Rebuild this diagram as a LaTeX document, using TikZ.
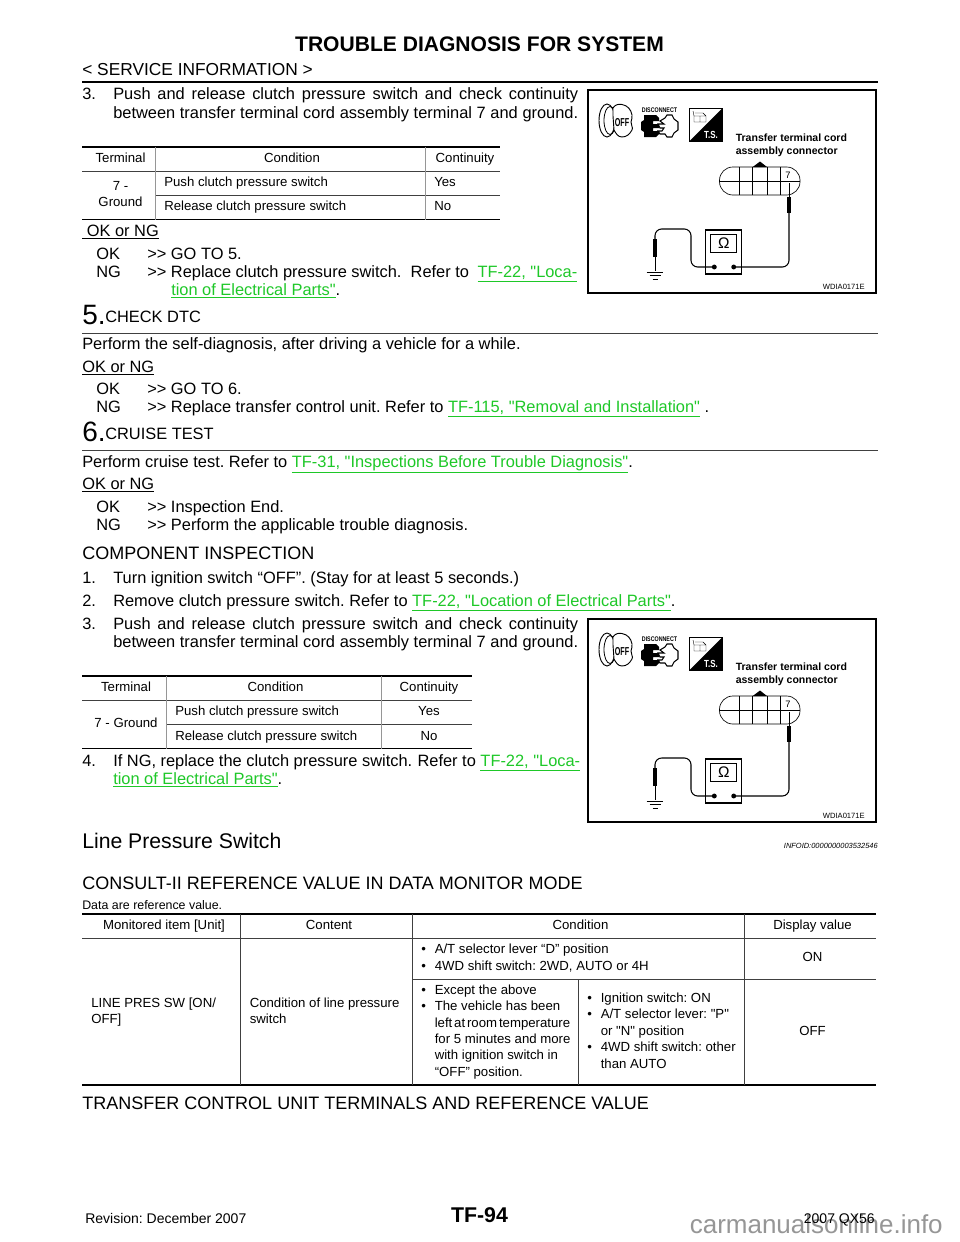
\documentclass[tikz,border=0pt]{standalone}
\usepackage{fontspec}
\setmainfont[Ligatures=TeXOff]{Liberation Sans}
\definecolor{linkgreen}{RGB}{30,200,40}
\definecolor{cellgray}{RGB}{150,150,150}
\definecolor{markgray}{RGB}{150,150,150}
\newcommand{\lnk}[1]{\textcolor{linkgreen}{\underline{#1}}}
\newcommand{\fullw}[2]{\makebox[#1][s]{#2}}
\tikzset{
  body/.style={anchor=base west, inner sep=0, font=\fontsize{12.3}{14}\selectfont},
  small/.style={anchor=base west, inner sep=0, font=\fontsize{9.9}{12}\selectfont},
  smallc/.style={anchor=base, inner sep=0, font=\fontsize{9.9}{12}\selectfont},
  headrule/.style={line width=1.4pt},
  thinrule/.style={line width=.5pt, color=black!75},
  cellrule/.style={line width=.5pt, color=cellgray},
  meterfig/.pic={
    \draw[line width=1pt, fill=white] (588, 90) rectangle (876, 293);
    %%icons
    \draw[line width=.7pt] (607, 120.5) ellipse (8 and 16.5);
    \draw[line width=.6pt] (610, 120.5) ellipse (6 and 14);
    \draw[line width=.7pt, fill=white] (613, 116) to (613, 108) to[out=60, in=170] (622, 104.5) to[out=-10, in=100] (632, 115) to[out=-80, in=80] (631, 122) to[out=-100, in=60] (632, 130) to[out=-120, in=0] (622, 137) to[out=180, in=-60] (614, 130) to cycle;
    \node (off) at (622, 122.5) [inner sep=0, font=\fontsize{7.5}{8}\selectfont\bfseries] {\scalebox{.72}[1.15]{OFF}};
    \node (disc) at (659.5, 110) [inner sep=0, font=\fontsize{4.2}{5}\selectfont\bfseries] {\scalebox{.95}[1.2]{DISCONNECT}};
    \fill (644, 115) to (656, 115) to (659, 118) to (659, 121) to (653, 121) to (653, 124) to (659, 124) to (659, 128) to (653, 128) to (653, 131) to (659, 131) to (659, 134) to (656, 137) to (644, 137) to (644, 132) to (641, 130) to (641, 122) to (644, 120) to cycle;
    \draw[line width=.8pt] (667, 115) to (672, 115) to (674, 119) to (678, 122) to (678, 130) to (674, 133) to (672, 137) to (667, 137) to (665, 134) to (660, 134) to (658, 131) to (662, 131) to (664, 128) to (660, 128) to (658, 124) to (664, 124) to (660, 121) to (665, 118) to cycle;
    \draw[line width=.5pt] (689.5, 108.5) rectangle (722, 141);
    \fill (722, 108.5) to (722, 141) to (689.5, 141) to cycle;
    \node (ts) at (711, 134.5) [inner sep=0, text=white, font=\fontsize{7}{8}\selectfont\bfseries] {\scalebox{.85}[1.1]{T.S.}};
    \draw[line width=.3pt] (694, 116) rectangle (700, 122) (700, 116) rectangle (706, 122) (694, 116) to (693, 111) (695, 113) to (703, 113) to (706, 116);
    %%connector
    \node (lbla) at (735.5, 141) [anchor=base west, inner sep=0, font=\fontsize{7.9}{9}\selectfont\bfseries] {Transfer terminal cord};
    \node (lblb) at (735.5, 154.5) [anchor=base west, inner sep=0, font=\fontsize{7.9}{9}\selectfont\bfseries] {assembly connector};
    \draw[line width=.5pt, rounded corners=10pt] (719.5, 167) rectangle (800, 195);
    \draw[line width=.5pt] (719.5, 181) to (800, 181);
    \draw[line width=.5pt] (739, 167) to (739, 195);
    \draw[line width=.5pt] (752.7, 167) to (752.7, 195);
    \draw[line width=.5pt] (767, 167) to (767, 195);
    \draw[line width=.5pt] (780.7, 167) to (780.7, 195);
    \fill (752.7, 167) to (760, 161.5) to (767, 167) to cycle;
    \node (pin) at (788, 175) [inner sep=0, fill=white, font=\fontsize{7}{8}\selectfont] {7};
    %%meter
    \node (meter) at (723.8, 252) [draw, line width=.8pt, minimum width=26.8pt, minimum height=33pt, inner sep=0] {};
    \node (dial) at (723.8, 243.5) [draw, line width=.8pt, minimum width=19.7pt, minimum height=13pt, inner sep=0, font=\fontsize{11.5}{12}\selectfont] {Ω};
    \node (plusdot) at (733.7, 267) [circle, fill, inner sep=1.3pt] {};
    \node (minusdot) at (714.3, 267) [circle, fill, inner sep=1.3pt] {};
    %%probes
    \coordinate (tipa) at (789, 183);
    \coordinate (bodya) at (789, 213);
    \coordinate (bodyb) at (655, 239);
    \coordinate (tipb) at (655, 271);
    \draw[line width=.7pt] (tipa) to (bodya);
    \draw[line width=3.2pt] (789, 197) to (bodya);
    \draw[line width=.8pt, rounded corners=5pt] (plusdot.center) to (789, 267) to (bodya);
    \draw[line width=.8pt, rounded corners=5pt] (minusdot.center) to (691, 267) to (691, 229) to (655, 229) to (bodyb);
    \draw[line width=3.2pt] (bodyb) to (655, 257);
    \draw[line width=.7pt] (655, 257) to (tipb);
    \draw[line width=.6pt] (646.7, 272) to (663.3, 272);
    \draw[line width=.6pt] (649.5, 275.5) to (660.5, 275.5);
    \draw[line width=.6pt] (652.5, 279) to (657.5, 279);
    \node (code) at (865, 289) [anchor=base east, inner sep=0, font=\fontsize{5.7}{7}\selectfont] {WDIA0171E};
  }
}
\begin{document}
\frenchspacing
\begin{tikzpicture}[x=.75pt, y=-.75pt]
      \useasboundingbox (0, 0) rectangle (960, 1242);
      \fill[white] (0, 0) rectangle (960, 1242);

      %%page head
      \node (title) at (479.5, 51) [anchor=base, inner sep=0, font=\fontsize{15.8}{18}\selectfont\bfseries] {TROUBLE DIAGNOSIS FOR SYSTEM};
      \node (section) at (82, 75.5) [body, font=\fontsize{13}{15}\selectfont] {< SERVICE INFORMATION >};
      \draw[line width=1.6pt] (82, 82) to (878, 82);

      %%step 3 top
      \node (san) at (82, 99.5) [body] {3.};
      \node (sa) at (113, 99.5) [body] {\fullw{348.7pt}{Push and release clutch pressure switch and check continuity}};
      \node (sb) at (113, 118) [body] {\fullw{348.7pt}{between transfer terminal cord assembly terminal 7 and ground.}};
      \pic (figa) at (0, 0) {meterfig};

      %%table 1
      \draw[headrule] (82, 147) to (500, 147);
      \draw[thinrule] (82, 171) to (500, 171);
      \draw[thinrule] (155, 195) to (500, 195);
      \draw[headrule] (82, 219.5) to (500, 219.5);
      \draw[cellrule] (155, 147) to (155, 219.5);
      \draw[cellrule] (425, 147) to (425, 219.5);
      \node (ah) at (120.5, 162) [smallc] {Terminal};
      \node (bh) at (292, 162) [smallc] {Condition};
      \node (ch) at (465, 162) [smallc] {Continuity};
      \node (aa) at (120.5, 190) [smallc] {7 -};
      \node (ab) at (120.5, 206) [smallc] {Ground};
      \node (ba) at (164, 186) [small] {Push clutch pressure switch};
      \node (bb) at (164, 210.5) [small] {Release clutch pressure switch};
      \node (ca) at (434, 186) [small] {Yes};
      \node (cb) at (434, 210.5) [small] {No};

      \node (oka) at (82, 236) [body] {\underline{\ OK or NG}};
      \node (okb) at (96, 259) [body] {OK};
      \node (okc) at (147, 259) [body] {>> GO TO 5.};
      \node (okd) at (96, 277) [body] {NG};
      \node (oke) at (147, 277) [body] {>> Replace clutch pressure switch.\ \ Refer to\hspace{3pt} \lnk{TF-22, "Loca-}};
      \node (okf) at (171, 295) [body] {\lnk{tion of Electrical Parts"}.};

      %%step 5
      \node (fivea) at (82, 324) [anchor=base west, inner sep=0, font=\fontsize{21}{24}\selectfont] {5.};
      \node (fiveb) at (105, 322) [body] {CHECK DTC};
      \draw[thinrule] (82, 333) to (878, 333);
      \node (fivec) at (82, 349.5) [body] {Perform the self-diagnosis, after driving a vehicle for a while.};
      \node (fived) at (82, 372) [body] {\underline{OK or NG}};
      \node (fivee) at (96, 394.5) [body] {OK};
      \node (fivef) at (147, 394.5) [body] {>> GO TO 6.};
      \node (fiveg) at (96, 412.5) [body] {NG};
      \node (fiveh) at (147, 412.5) [body] {>> Replace transfer control unit. Refer to \lnk{TF-115, "Removal and Installation"} .};

      %%step 6
      \node (sixa) at (82, 441) [anchor=base west, inner sep=0, font=\fontsize{21}{24}\selectfont] {6.};
      \node (sixb) at (105, 439) [body] {CRUISE TEST};
      \draw[thinrule] (82, 450.5) to (878, 450.5);
      \node (sixc) at (82, 467) [body] {Perform cruise test. Refer to \lnk{TF-31, "Inspections Before Trouble Diagnosis"}.};
      \node (sixd) at (82, 489.5) [body] {\underline{OK or NG}};
      \node (sixe) at (96, 512) [body] {OK};
      \node (sixf) at (147, 512) [body] {>> Inspection End.};
      \node (sixg) at (96, 530) [body] {NG};
      \node (sixh) at (147, 530) [body] {>> Perform the applicable trouble diagnosis.};

      %%component inspection
      \node (cia) at (82, 559) [anchor=base west, inner sep=0, font=\fontsize{13.5}{16}\selectfont] {COMPONENT INSPECTION};
      \node (cib) at (82, 583.5) [body] {1.};
      \node (cic) at (113, 583.5) [body] {Turn ignition switch “OFF”. (Stay for at least 5 seconds.)};
      \node (cid) at (82, 606.5) [body] {2.};
      \node (cie) at (113, 606.5) [body] {Remove clutch pressure switch. Refer to \lnk{TF-22, "Location of Electrical Parts"}.};
      \node (cifn) at (82, 629) [body] {3.};
      \node (cif) at (113, 629) [body] {\fullw{348.7pt}{Push and release clutch pressure switch and check continuity}};
      \node (cig) at (113, 647) [body] {\fullw{348.7pt}{between transfer terminal cord assembly terminal 7 and ground.}};
      \pic (figb) at (0, 529) {meterfig};

      %%table 2
      \draw[headrule] (82, 676) to (472, 676);
      \draw[thinrule] (82, 700) to (472, 700);
      \draw[thinrule] (166, 724) to (472, 724);
      \draw[headrule] (82, 748.5) to (472, 748.5);
      \draw[cellrule] (166, 676) to (166, 748.5);
      \draw[cellrule] (381, 676) to (381, 748.5);
      \node (dh) at (126, 691.5) [smallc] {Terminal};
      \node (eh) at (275.5, 691.5) [smallc] {Condition};
      \node (fh) at (429, 691.5) [smallc] {Continuity};
      \node (da) at (126, 727.5) [smallc] {7 - Ground};
      \node (ea) at (175, 715.5) [small] {Push clutch pressure switch};
      \node (eb) at (175, 740) [small] {Release clutch pressure switch};
      \node (fa) at (429, 715.5) [smallc] {Yes};
      \node (fb) at (429, 740) [smallc] {No};

      \node (foura) at (82, 766) [body] {4.};
      \node (fourb) at (113, 766) [body] {If NG, replace the clutch pressure switch.\ \hspace{.6pt}Refer to \lnk{TF-22, "Loca-}};
      \node (fourc) at (113, 784) [body] {\lnk{tion of Electrical Parts"}.};

      %%line pressure switch
      \node (lpa) at (82, 848) [anchor=base west, inner sep=0, font=\fontsize{15.9}{20}\selectfont] {Line Pressure Switch};
      \node (lpb) at (878, 848) [anchor=base east, inner sep=0, font=\fontsize{5.6}{7}\selectfont\itshape] {INFOID:0000000003532546};
      \node (lpc) at (82, 889.5) [anchor=base west, inner sep=0, font=\fontsize{13.5}{16}\selectfont] {CONSULT-II REFERENCE VALUE IN DATA MONITOR MODE};
      \node (lpd) at (82, 909.5) [anchor=base west, inner sep=0, font=\fontsize{9.3}{11}\selectfont] {Data are reference value.};

      %%table 3
      \draw[headrule] (82, 914) to (876, 914);
      \draw[thinrule] (82, 938) to (876, 938);
      \draw[thinrule] (412, 979) to (876, 979);
      \draw[headrule] (82, 1085) to (876, 1085);
      \draw[thinrule] (240.5, 914) to (240.5, 1085);
      \draw[thinrule] (412, 914) to (412, 1085);
      \draw[thinrule] (744, 914) to (744, 1085);
      \draw[thinrule] (578, 979) to (578, 1085);
      \node (gh) at (164, 929.5) [smallc] {Monitored item [Unit]};
      \node (hh) at (329, 929.5) [smallc] {Content};
      \node (ih) at (580.5, 929.5) [smallc] {Condition};
      \node (jh) at (812.5, 929.5) [smallc] {Display value};
      \node (ga) at (91, 1007) [small] {LINE PRES SW [ON/};
      \node (gb) at (91, 1023) [small] {OFF]};
      \node (ha) at (249.5, 1007) [small] {Condition of line pressure};
      \node (hb) at (249.5, 1023) [small] {switch};
      \node (ia) at (421, 953.5) [small] {•};
      \node (ib) at (434.5, 953.5) [small] {A/T selector lever “D” position};
      \node (ic) at (421, 970) [small] {•};
      \node (id) at (434.5, 970) [small] {4WD shift switch: 2WD, AUTO or 4H};
      \node (ie) at (421, 994) [small] {•};
      \node (if) at (434.5, 994) [small] {Except the above};
      \node (ig) at (421, 1010.5) [small] {•};
      \node (ih2) at (434.5, 1010.5) [small] {The vehicle has been};
      \node (ii) at (434.5, 1027) [small] {\spaceskip=.14em left at room temperature};
      \node (ij) at (434.5, 1043.5) [small] {for 5 minutes and more};
      \node (ik) at (434.5, 1059.5) [small] {with ignition switch in};
      \node (il) at (434.5, 1076) [small] {“OFF” position.};
      \node (ja) at (587, 1002) [small] {•};
      \node (jb) at (600.5, 1002) [small] {Ignition switch: ON};
      \node (jc) at (587, 1018.5) [small] {•};
      \node (jd) at (600.5, 1018.5) [small] {A/T selector lever: "P"};
      \node (je) at (600.5, 1035) [small] {or "N" position};
      \node (jf) at (587, 1051.5) [small] {•};
      \node (jg) at (600.5, 1051.5) [small] {4WD shift switch: other};
      \node (ji) at (600.5, 1068) [small] {than AUTO};
      \node (ka) at (812.5, 961.5) [smallc] {ON};
      \node (kb) at (812.5, 1035) [smallc] {OFF};

      \node (tca) at (82, 1109.5) [anchor=base west, inner sep=0, font=\fontsize{13.5}{16}\selectfont] {TRANSFER CONTROL UNIT TERMINALS AND REFERENCE VALUE};

      %%page foot
      \node (mark) at (943, 1233) [anchor=base east, inner sep=0, text=markgray, font=\fontsize{19.5}{22}\selectfont] {carmanualsonline.info};
      \node (foota) at (85, 1223.5) [anchor=base west, inner sep=0, font=\fontsize{10.5}{12}\selectfont] {Revision: December 2007};
      \node (footb) at (479.5, 1222.5) [anchor=base, inner sep=0, font=\fontsize{16}{18}\selectfont\bfseries] {TF-94};
      \node (footc) at (875, 1223.5) [anchor=base east, inner sep=0, font=\fontsize{10.5}{12}\selectfont] {2007 QX56};
\end{tikzpicture}
\end{document}
